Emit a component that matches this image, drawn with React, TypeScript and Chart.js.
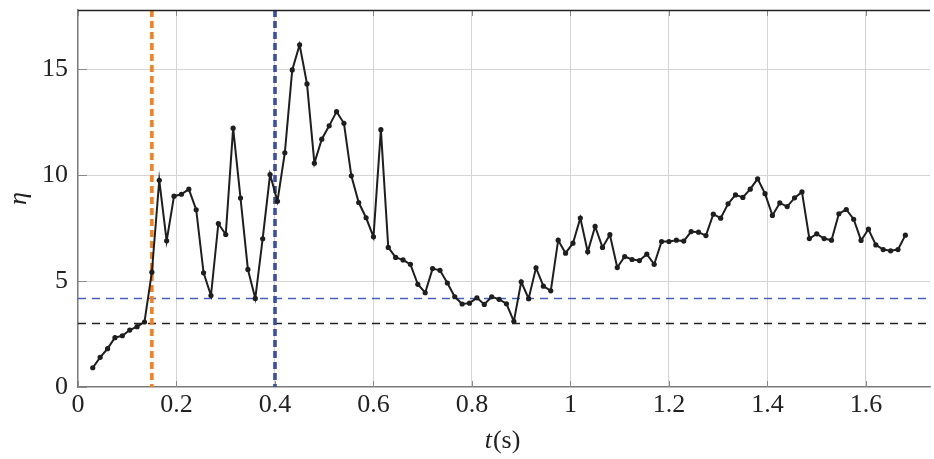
import React, { useEffect, useRef } from "react";
import { Chart, registerables } from "chart.js";

Chart.register(...registerables);

const timeS = [
  0.030, 0.045, 0.060, 0.075, 0.090, 0.105, 0.120, 0.135, 0.150, 0.165,
  0.180, 0.195, 0.210, 0.225, 0.240, 0.255, 0.270, 0.285, 0.300, 0.315,
  0.330, 0.345, 0.360, 0.375, 0.390, 0.405, 0.420, 0.435, 0.450, 0.465,
  0.480, 0.495, 0.510, 0.525, 0.540, 0.555, 0.570, 0.585, 0.600, 0.615,
  0.630, 0.645, 0.660, 0.675, 0.690, 0.705, 0.720, 0.735, 0.750, 0.765,
  0.780, 0.795, 0.810, 0.825, 0.840, 0.855, 0.870, 0.885, 0.900, 0.915,
  0.930, 0.945, 0.960, 0.975, 0.990, 1.005, 1.020, 1.035, 1.050, 1.065,
  1.080, 1.095, 1.110, 1.125, 1.140, 1.155, 1.170, 1.185, 1.200, 1.215,
  1.230, 1.245, 1.260, 1.275, 1.290, 1.305, 1.320, 1.335, 1.350, 1.365,
  1.380, 1.395, 1.410, 1.425, 1.440, 1.455, 1.470, 1.485, 1.500, 1.515,
  1.530, 1.545, 1.560, 1.575, 1.590, 1.605, 1.620, 1.635, 1.650, 1.665,
  1.680,
];

const eta = [
  0.91, 1.40, 1.81, 2.33, 2.42, 2.69, 2.85, 3.07, 5.42, 9.76,
  6.90, 9.01, 9.10, 9.34, 8.37, 5.39, 4.32, 7.72, 7.20, 12.22,
  8.92, 5.55, 4.18, 7.00, 10.03, 8.77, 11.06, 14.97, 16.16, 14.31,
  10.57, 11.70, 12.33, 13.00, 12.45, 9.97, 8.71, 7.99, 7.09, 12.15,
  6.59, 6.12, 6.00, 5.79, 4.85, 4.45, 5.59, 5.51, 4.91, 4.26,
  3.92, 3.96, 4.21, 3.90, 4.26, 4.14, 3.93, 3.10, 4.97, 4.17,
  5.63, 4.76, 4.54, 6.93, 6.32, 6.79, 7.98, 6.38, 7.58, 6.59,
  7.19, 5.64, 6.16, 6.02, 5.97, 6.27, 5.79, 6.87, 6.87, 6.93,
  6.89, 7.34, 7.31, 7.15, 8.16, 7.97, 8.65, 9.07, 8.95, 9.34,
  9.83, 9.13, 8.10, 8.69, 8.52, 8.93, 9.21, 7.01, 7.23, 7.01,
  6.93, 8.18, 8.38, 7.92, 6.92, 7.45, 6.71, 6.49, 6.43, 6.49,
  7.17,
];

const xTicks = [0, 0.2, 0.4, 0.6, 0.8, 1, 1.2, 1.4, 1.6];
const xTickLabels = ["0", "0.2", "0.4", "0.6", "0.8", "1", "1.2", "1.4", "1.6"];
const yTicks = [0, 5, 10, 15];
const yTickLabels = ["0", "5", "10", "15"];

const xRange = [0, 1.73];
const yRange = [0, 17.8];

const vLines = [
  { x: 0.15, color: "#f5801f" },
  { x: 0.4, color: "#3a4ea6" },
];
const hLines = [
  { y: 4.18, color: "#4462bd" },
  { y: 3.0, color: "#222222" },
];

const FONT = "'Times New Roman', 'Liberation Serif', Tinos, Times, serif";

const decorPlugin = {
  id: "decor",
  beforeDatasetsDraw(chart: any) {
    const ctx = chart.ctx;
    const { left, right, top, bottom } = chart.chartArea;
    const xs = chart.scales.x;
    const ys = chart.scales.y;
    ctx.save();
    ctx.strokeStyle = "#8a8a8a";
    ctx.lineWidth = 1;
    ctx.beginPath();
    xTicks.forEach((v) => {
      const px = Math.round(xs.getPixelForValue(v)) + 0.5;
      ctx.moveTo(px, bottom);
      ctx.lineTo(px, bottom - 6);
      ctx.moveTo(px, top);
      ctx.lineTo(px, top + 6);
    });
    yTicks.forEach((v) => {
      const py = Math.round(ys.getPixelForValue(v)) + 0.5;
      ctx.moveTo(left, py);
      ctx.lineTo(left + 9, py);
    });
    ctx.stroke();
    hLines.forEach((h) => {
      const py = ys.getPixelForValue(h.y);
      ctx.strokeStyle = h.color;
      ctx.lineWidth = 1.6;
      ctx.setLineDash([8, 6]);
      ctx.beginPath();
      ctx.moveTo(left, py);
      ctx.lineTo(right, py);
      ctx.stroke();
    });
    vLines.forEach((v) => {
      const px = xs.getPixelForValue(v.x);
      ctx.strokeStyle = v.color;
      ctx.lineWidth = 3.6;
      ctx.setLineDash([7, 4]);
      ctx.beginPath();
      ctx.moveTo(px, top);
      ctx.lineTo(px, bottom);
      ctx.stroke();
    });
    ctx.restore();
  },
  afterDraw(chart: any) {
    const ctx = chart.ctx;
    const { left, right, top, bottom } = chart.chartArea;
    ctx.save();
    ctx.strokeStyle = "#222222";
    ctx.lineWidth = 1.3;
    ctx.beginPath();
    ctx.moveTo(left, top + 0.5);
    ctx.lineTo(right, top + 0.5);
    ctx.stroke();
    ctx.fillStyle = "#222222";
    ctx.font = `italic 26px ${FONT}`;
    ctx.textAlign = "center";
    ctx.textBaseline = "middle";
    ctx.translate(19, (top + bottom) / 2);
    ctx.rotate(-Math.PI / 2);
    ctx.fillText("η", 0, 0);
    ctx.restore();
    ctx.save();
    ctx.fillStyle = "#222222";
    ctx.textBaseline = "alphabetic";
    ctx.textAlign = "left";
    ctx.font = `italic 26px ${FONT}`;
    const wT = ctx.measureText("t").width;
    ctx.font = `26px ${FONT}`;
    const wS = ctx.measureText("(s)").width;
    const cx = (left + right) / 2 - 2;
    const startX = cx - (wT + wS) / 2;
    const baseY = 448;
    ctx.font = `italic 26px ${FONT}`;
    ctx.fillText("t", startX, baseY);
    ctx.font = `26px ${FONT}`;
    ctx.fillText("(s)", startX + wT + 1, baseY);
    ctx.restore();
  },
};

export default function App() {
  const ref = useRef<HTMLCanvasElement | null>(null);
  useEffect(() => {
    if (!ref.current) return;
    const chart = new Chart(ref.current, {
      type: "line",
      data: {
        datasets: [
          {
            data: timeS.map((t, i) => ({ x: t, y: eta[i] })),
            borderColor: "#1e1e1e",
            backgroundColor: "#1e1e1e",
            borderWidth: 2,
            pointRadius: 2.6,
            pointBorderWidth: 0,
            pointBackgroundColor: "#1e1e1e",
            tension: 0,
          },
        ],
      },
      options: {
        responsive: false,
        animation: false,
        layout: { padding: { top: 10, right: 0, left: 0, bottom: 0 } },
        plugins: {
          legend: { display: false },
          tooltip: { enabled: false },
        },
        scales: {
          x: {
            type: "linear",
            min: xRange[0],
            max: xRange[1],
            afterBuildTicks: (scale: any) => {
              scale.ticks = xTicks.map((v) => ({ value: v }));
            },
            afterFit: (scale: any) => {
              scale.height = 72;
              scale.paddingLeft = 0;
              scale.paddingRight = 0;
            },
            ticks: {
              autoSkip: false,
              maxRotation: 0,
              padding: 3,
              color: "#222222",
              font: { family: FONT, size: 26 },
              callback: (v: any) => {
                const i = xTicks.findIndex((t) => Math.abs(t - Number(v)) < 1e-9);
                return i >= 0 ? xTickLabels[i] : "";
              },
            },
            grid: { color: "#d4d4d4", lineWidth: 1, drawTicks: false },
            border: { display: true, color: "#7a7a7a", width: 1.3 },
          },
          y: {
            type: "linear",
            min: yRange[0],
            max: yRange[1],
            afterBuildTicks: (scale: any) => {
              scale.ticks = yTicks.map((v) => ({ value: v }));
            },
            afterFit: (scale: any) => {
              scale.width = 78;
              scale.paddingTop = 0;
              scale.paddingBottom = 0;
            },
            ticks: {
              autoSkip: false,
              padding: 10,
              color: "#222222",
              font: { family: FONT, size: 26 },
              callback: (v: any) => {
                const i = yTicks.findIndex((t) => Math.abs(t - Number(v)) < 1e-9);
                return i >= 0 ? yTickLabels[i] : "";
              },
            },
            grid: { color: "#d4d4d4", lineWidth: 1, drawTicks: false },
            border: { display: true, color: "#7a7a7a", width: 1.3 },
          },
        },
      },
      plugins: [decorPlugin],
    } as any);
    return () => chart.destroy();
  }, []);
  return (
    <div style={{ position: "absolute", left: 0, top: 0, width: 934, height: 459 }}>
      <canvas ref={ref} width={934} height={459} style={{ display: "block" }} />
    </div>
  );
}
